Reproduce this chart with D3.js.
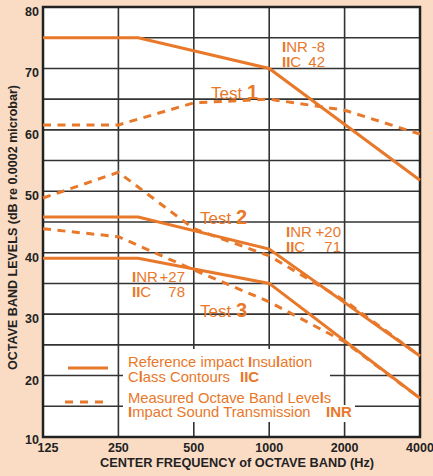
<!DOCTYPE html>
<html>
<head>
<meta charset="utf-8">
<script src="https://cdn.jsdelivr.net/npm/d3@7"></script>
<style>
  body { margin: 0; background: #fadcc5; }
  svg { display: block; font-family: "Liberation Sans", Arial, sans-serif; }
</style>
</head>
<body>
<div id="chart"></div>
<script>
// octave band centres
var freqs = [125, 250, 500, 1000, 2000, 4000];
var freqLabels = ["125", "250", "500", "1000", "2000", "4000"];
var levelTicks = [10, 20, 30, 40, 50, 60, 70, 80];

// reference IIC contours (solid)
var contourFreqs = [125, 300, 1000, 4000];
var contour1 = [75, 75, 70, 51.8];
var contour2 = [45.8, 45.8, 40.6, 23.2];
var contour3 = [39.1, 39.1, 35, 16.3];

// measured octave band levels (dashed)
var measured1 = [60.8, 60.8, 64.4, 65.0, 63.2, 59.3];
var measured2 = [48.9, 53.1, 43.9, 39.5, 32.2, 23.2];
var measured3 = [43.9, 42.6, 37.2, 32.0, 25.5, 16.3];

var testLabels = ["1", "2", "3"];
var inrValues = ["-8", "+20", "+27"];
var iicValues = ["42", "71", "78"];

var W = 433, H = 476;
var orange = "#e8782a";
var ink = "#222";

var svg = d3.select("#chart").append("svg")
    .attr("width", W)
    .attr("height", H);

svg.append("rect").attr("width", W).attr("height", H).attr("fill", "#fadcc5");

var x = d3.scaleLog().base(2)
    .domain([125, 4000])
    .range([43, 420]);

var y = d3.scaleLinear()
    .domain([10, 80])
    .range([437, 7]);

// plot area
svg.append("rect")
    .attr("x", x(125)).attr("y", y(80))
    .attr("width", x(4000) - x(125))
    .attr("height", y(10) - y(80))
    .attr("fill", "#fff");

// grid
var grid = svg.append("g").attr("stroke", "#333").attr("stroke-width", 1.6);
grid.selectAll("line.h")
    .data(d3.range(15, 80, 5))
    .enter().append("line")
    .attr("class", "h")
    .attr("x1", x(125)).attr("x2", x(4000))
    .attr("y1", function(d) { return y(d); })
    .attr("y2", function(d) { return y(d); });
grid.selectAll("line.v")
    .data(freqs.slice(1, 5))
    .enter().append("line")
    .attr("class", "v")
    .attr("y1", y(80)).attr("y2", y(10))
    .attr("x1", function(d) { return x(d); })
    .attr("x2", function(d) { return x(d); });

// legend background (hides the grid behind the text)
var legBoxes = [[123, 349, 207, 43], [123, 392, 217, 13], [123, 405, 232, 17]];
svg.selectAll("rect.leg")
    .data(legBoxes)
    .enter().append("rect")
    .attr("class", "leg")
    .attr("x", function(d) { return d[0]; })
    .attr("y", function(d) { return d[1]; })
    .attr("width", function(d) { return d[2]; })
    .attr("height", function(d) { return d[3]; })
    .attr("fill", "#fff");

// frame
svg.append("rect")
    .attr("x", x(125)).attr("y", y(80))
    .attr("width", x(4000) - x(125))
    .attr("height", y(10) - y(80))
    .attr("fill", "none")
    .attr("stroke", ink)
    .attr("stroke-width", 2.5);

// lines
var line = d3.line()
    .x(function(d) { return x(d[0]); })
    .y(function(d) { return y(d[1]); });

[contour1, contour2, contour3].forEach(function(c) {
    svg.append("path")
        .datum(d3.zip(contourFreqs, c))
        .attr("d", line)
        .attr("fill", "none")
        .attr("stroke", orange)
        .attr("stroke-width", 3);
});

[measured1, measured2, measured3].forEach(function(m) {
    svg.append("path")
        .datum(d3.zip(freqs, m))
        .attr("d", line)
        .attr("fill", "none")
        .attr("stroke", orange)
        .attr("stroke-width", 3)
        .attr("stroke-dasharray", "8,6.5");
});

// text helper: the typeface draws I and l heavier
function heavyIL(sel, str) {
    str.split(/([Il])/).forEach(function(part) {
        if (part === "") return;
        var t = sel.append("tspan").text(part);
        if (part === "I" || part === "l") t.attr("font-weight", "bold");
    });
}

// tick labels
svg.selectAll("text.ytick")
    .data(levelTicks)
    .enter().append("text")
    .attr("class", "ytick")
    .attr("x", 39)
    .attr("y", function(d) { return d == 10 ? y(d) + 7 : y(d) + 9; })
    .attr("text-anchor", "end")
    .attr("font-size", 12.5)
    .attr("font-weight", "bold")
    .attr("fill", ink)
    .text(function(d) { return d; });

svg.selectAll("text.xtick")
    .data(freqs)
    .enter().append("text")
    .attr("class", "xtick")
    .attr("x", function(d, i) { return i == 0 ? x(d) + 5 : x(d); })
    .attr("y", 452)
    .attr("text-anchor", "middle")
    .attr("font-size", 12.5)
    .attr("font-weight", "bold")
    .attr("fill", ink)
    .text(function(d, i) { return freqLabels[i]; });

// axis titles
svg.append("text")
    .attr("x", 237).attr("y", 467)
    .attr("text-anchor", "middle")
    .attr("font-size", 13)
    .attr("font-weight", "bold")
    .attr("fill", ink)
    .attr("textLength", 274)
    .attr("lengthAdjust", "spacingAndGlyphs")
    .text("CENTER FREQUENCY of OCTAVE BAND (Hz)");

svg.append("text")
    .attr("transform", "translate(17,227.5) rotate(-90)")
    .attr("text-anchor", "middle")
    .attr("font-size", 13)
    .attr("font-weight", "bold")
    .attr("fill", ink)
    .attr("textLength", 285)
    .attr("lengthAdjust", "spacingAndGlyphs")
    .text("OCTAVE BAND LEVELS (dB re 0.0002 microbar)");

// test labels
var testPos = [[211, 99], [200, 224], [200, 317]];
testPos.forEach(function(p, i) {
    var t = svg.append("text")
        .attr("x", p[0]).attr("y", p[1])
        .attr("fill", orange)
        .attr("font-size", 17);
    t.append("tspan").text("Test ");
    t.append("tspan").attr("font-weight", "bold").attr("font-size", 20).text(testLabels[i]);
});

// INR / IIC labels
var ratingPos = [[282, 325, 52], [286, 341, 237], [132, 185, 282]];
ratingPos.forEach(function(p, i) {
    var g = svg.append("g").attr("fill", orange).attr("font-size", 15);
    heavyIL(g.append("text").attr("x", p[0]).attr("y", p[2]), "INR");
    heavyIL(g.append("text").attr("x", p[0]).attr("y", p[2] + 15), "IIC");
    g.append("text").attr("x", p[1]).attr("y", p[2]).attr("text-anchor", "end").text(inrValues[i]);
    g.append("text").attr("x", p[1]).attr("y", p[2] + 15).attr("text-anchor", "end").text(iicValues[i]);
});

// legend
svg.append("line")
    .attr("x1", 68).attr("x2", 108)
    .attr("y1", 368).attr("y2", 368)
    .attr("stroke", orange).attr("stroke-width", 3);
svg.append("line")
    .attr("x1", 65).attr("x2", 104)
    .attr("y1", 402).attr("y2", 402)
    .attr("stroke", orange).attr("stroke-width", 3)
    .attr("stroke-dasharray", "8,7");

var leg = svg.append("g").attr("fill", orange).attr("font-size", 14.8);
heavyIL(leg.append("text").attr("x", 128).attr("y", 367), "Reference impact Insulation");
var l2 = leg.append("text").attr("x", 128).attr("y", 382);
heavyIL(l2, "Class Contours");
l2.append("tspan").attr("x", 240).attr("font-weight", "bold").attr("font-size", 15).text("IIC");
heavyIL(leg.append("text").attr("x", 128).attr("y", 403), "Measured Octave Band Levels");
var l4 = leg.append("text").attr("x", 128).attr("y", 417);
heavyIL(l4, "Impact Sound Transmission");
l4.append("tspan").attr("x", 326).attr("font-weight", "bold").attr("font-size", 15).text("INR");
</script>
</body>
</html>
